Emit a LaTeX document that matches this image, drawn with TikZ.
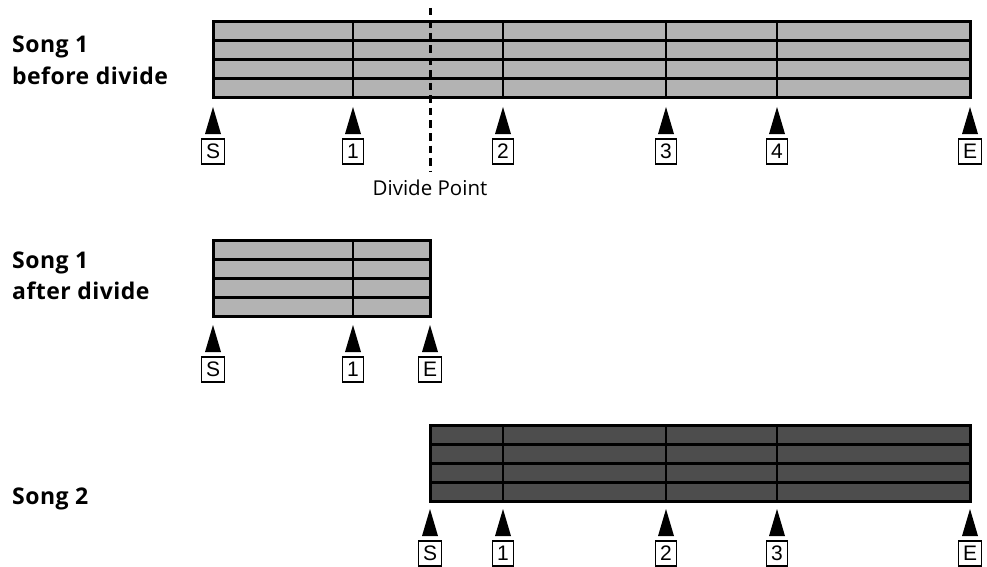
\documentclass[tikz,border=0pt]{standalone}
\usepackage{fontspec}
\setmainfont{Open Sans}
\newfontfamily\namefont[LetterSpace=2]{Open Sans}
\newfontfamily\markfont{Liberation Sans}
\usetikzlibrary{positioning}
\definecolor{trkLight}{HTML}{B3B3B3}
\definecolor{trkDark}{HTML}{4D4D4D}
\tikzset{
  rowline/.style={line width=3pt},
  barline/.style={line width=1.5pt},
  songname/.style={font=\namefont\bfseries\fontsize{23}{26}\selectfont, anchor=base west, inner sep=0pt},
  markbox/.style={draw, line width=1.5pt, font=\markfont\fontsize{21}{21}\selectfont,
    inner xsep=4.5pt, inner ysep=0pt, minimum height=25pt},
  pointer/.style={fill=black},
}
% one song: left, right, top, fill, bar lines
\newcommand\trackblock[5]{%
  \fill[#4] (#1,#3) rectangle (#2,#3+76);
  \foreach \bx in {#5} \draw[barline] (\bx,#3) -- (\bx,#3+76);
  \foreach \ry in {19,38,57} \draw[rowline] (#1,#3+\ry) -- (#2,#3+\ry);
  \draw[rowline] (#1,#3) rectangle (#2,#3+76);
}
% pointer with its label box: name, x, tip y, label
\newcommand\songmark[4]{%
  \coordinate (#1) at (#2,#3);
  \fill[pointer] (#1) -- ++(-8,27) -- ++(16,0) -- cycle;
  \node[markbox, below=31pt of #1] (#1box) {#4};
}
\begin{document}
\begin{tikzpicture}[x=1pt, y=-1pt]
  \useasboundingbox (0,0) rectangle (987,567);
  % song 1 before divide
  \node[songname] (nameBefore) at (12,53) {Song 1};
  \node[songname] (stateBefore) at (12,85) {before divide};
  \trackblock{213}{970}{22}{trkLight}{353,503,666,777}
  \coordinate (divTop) at (430,8);
  \coordinate (divBot) at (430,172);
  \draw[line width=3pt, dash pattern=on 7.5pt off 5pt] (divTop) -- (divBot);
  \node[font=\fontsize{20.5}{24}\selectfont, inner sep=0pt, below=8pt of divBot] (divLabel) {Divide Point};
  \foreach \nm/\px/\lb in {bS/213/S, b1/353/1, b2/503/2, b3/666/3, b4/777/4, bE/970/E}
    \songmark{\nm}{\px}{107}{\lb};
  % song 1 after divide
  \node[songname] (nameAfter) at (12,268) {Song 1};
  \node[songname] (stateAfter) at (12,299) {after divide};
  \trackblock{213}{430}{240}{trkLight}{353}
  \foreach \nm/\px/\lb in {aS/213/S, a1/353/1, aE/430/E}
    \songmark{\nm}{\px}{325}{\lb};
  % song 2
  \node[songname] (nameNew) at (12,504) {Song 2};
  \trackblock{430}{970}{425}{trkDark}{503,666,777}
  \foreach \nm/\px/\lb in {nS/430/S, n1/503/1, n2/666/2, n3/777/3, nE/970/E}
    \songmark{\nm}{\px}{509}{\lb};
\end{tikzpicture}
\end{document}
